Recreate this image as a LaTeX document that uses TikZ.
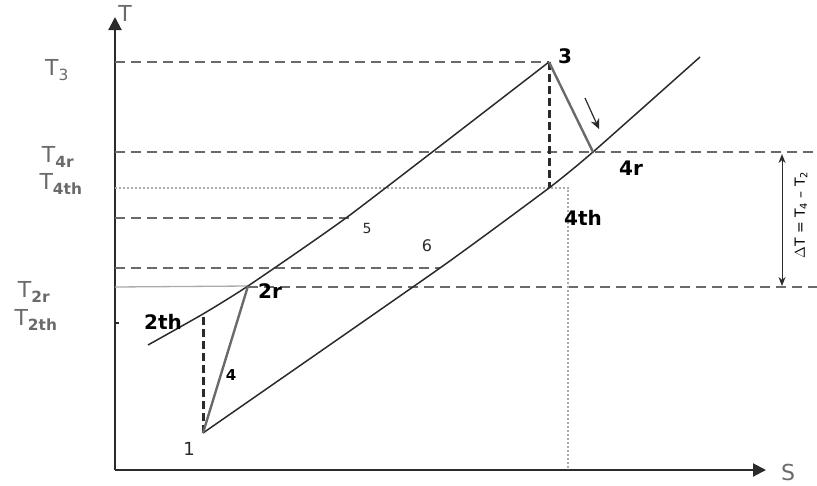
\documentclass[tikz,border=0pt]{standalone}
\usepackage{fontspec}
\setmainfont{DejaVu Sans}
\usepackage{xcolor}
\definecolor{cLine}{HTML}{2B2B2B}
\definecolor{cGray}{HTML}{6A6A6A}
\definecolor{cLight}{HTML}{ABABAB}
\usetikzlibrary{arrows.meta,calc}
\tikzset{
  axis-line/.style={draw=cLine,line width=2pt,-{Triangle[length=13pt,width=13pt]}},
  iso-line/.style={draw=cLine,line width=1.5pt,smooth,tension=0.3},
  proc-line/.style={draw=cGray,line width=2.4pt},
  drop-dash/.style={draw=cLine,line width=3pt,dash pattern=on 8pt off 4pt},
  guide-dash/.style={draw=cGray,line width=1.3pt,dash pattern=on 10pt off 6pt},
  guide-dot/.style={draw=cLight,line width=1.2pt,dash pattern=on 2pt off 2pt},
  guide-solid/.style={draw=cLight,line width=1.3pt},
  arrow/.style={-{Stealth[length=10pt,width=9pt]},draw=cLine,line width=1.2pt},
  arrow-both/.style={{Stealth[length=9pt,width=7pt]}-{Stealth[length=9pt,width=7pt]},draw=cLine,line width=1pt},
  lbl-temp/.style={font=\fontsize{22}{24}\selectfont,text=cGray,inner sep=0pt},
  lbl-state/.style={font=\fontsize{20}{22}\selectfont\bfseries,text=black,inner sep=0pt},
  lbl-plain/.style={font=\fontsize{18}{20}\selectfont,text=cLine,inner sep=0pt},
}
\begin{document}
\begin{tikzpicture}[x=1pt,y=-1pt]
  \useasboundingbox (0,0) rectangle (817,485);
  % axes
  \coordinate (o) at (115,470);
  \coordinate (ytop) at (115,17);
  \coordinate (xend) at (766,470);
  \draw[axis-line] (o) -- (ytop);
  \draw[axis-line] (o) -- (xend);
  \node[lbl-temp] (lT) at (125,13) {T};
  \node[lbl-temp] (lS) at (788,472) {S};
  % state points
  \coordinate (p1) at (203,433);
  \coordinate (p2th) at (203,314);
  \coordinate (p2r) at (248,286);
  \coordinate (p3) at (549,62);
  \coordinate (p4th) at (549,188);
  \coordinate (p4r) at (593,152);
  \coordinate (p5) at (350,215);
  \coordinate (p6) at (440,268);
  \coordinate (hiStart) at (148,345);
  \coordinate (loEnd) at (700,57);
  % axis feet of the guide lines
  \coordinate (a3) at (115,62);
  \coordinate (a4r) at (115,152);
  \coordinate (a4th) at (115,188);
  \coordinate (a5) at (115,218);
  \coordinate (a6) at (115,268);
  \coordinate (a2r) at (115,287);
  \coordinate (e4r) at (817,152);
  \coordinate (e2r) at (817,287);
  \coordinate (d4th) at (570,188);
  \coordinate (v4top) at (568,190);
  \coordinate (v4bot) at (568,470);
  % guide lines
  \draw[guide-dash] (a3) -- (p3);
  \draw[guide-dash] (a4r) -- (e4r);
  \draw[guide-dot] (a4th) -- (d4th);
  \draw[guide-dash] (a5) -- (p5 |- a5);
  \draw[guide-dash] (a6) -- (p6);
  \draw[guide-solid] (a2r) -- (p2r);
  \draw[guide-dash] (p2r |- a2r) -- (e2r);
  \draw[guide-dot] (v4top) -- (v4bot);
  \draw[draw=cLine,line width=1.4pt] (115,323) -- (119,323);
  % isobars
  \draw[iso-line] plot coordinates {(hiStart) (p2th) (p2r) (p5) (p3)};
  \draw[iso-line] plot coordinates {(p1) (p6) (p4th) (p4r) (loEnd)};
  % processes
  \draw[drop-dash] (p1) -- (p2th);
  \draw[drop-dash] (p3) -- (p4th);
  \draw[proc-line] (p1) -- (p2r);
  \draw[proc-line] (p3) -- (p4r);
  \coordinate (arTail) at (585,98);
  \coordinate (arHead) at (599,129);
  \draw[arrow] (arTail) -- (arHead);
  % delta T
  \coordinate (dTtop) at (782,154);
  \coordinate (dTbot) at (782,286);
  \draw[arrow-both] (dTtop) -- (dTbot);
  \node[rotate=90,font=\fontsize{14}{15}\selectfont,inner sep=0pt] (lDT) at (801,215)
    {$\Delta$T = T\textsubscript{4} -- T\textsubscript{2}};
  % temperature labels
  \node[lbl-temp] (lT3) at (57,70) {T\textsubscript{3}};
  \node[lbl-temp] (lT4r) at (58,157) {T\textsubscript{\bfseries 4r}};
  \node[lbl-temp] (lT4th) at (61,184) {T\textsubscript{\bfseries 4th}};
  \node[lbl-temp] (lT2r) at (34,292) {T\textsubscript{\bfseries 2r}};
  \node[lbl-temp] (lT2th) at (36,320) {T\textsubscript{\bfseries 2th}};
  % state labels
  \node[lbl-plain] (l1) at (189,449) {1};
  \node[lbl-state] (l2th) at (163,322) {2th};
  \node[lbl-state] (l2r) at (270,291) {2r};
  \node[lbl-state,font=\fontsize{15}{16}\selectfont\bfseries] (l4) at (231,375) {4};
  \node[lbl-state] (l3) at (565,56) {3};
  \node[lbl-state] (l4r) at (631,168) {4r};
  \node[lbl-state] (l4th) at (583,218) {4th};
  \node[lbl-plain,font=\fontsize{14}{16}\selectfont] (l5) at (367,228) {5};
  \node[lbl-plain,font=\fontsize{16}{18}\selectfont] (l6) at (427,246) {6};
\end{tikzpicture}
\end{document}
